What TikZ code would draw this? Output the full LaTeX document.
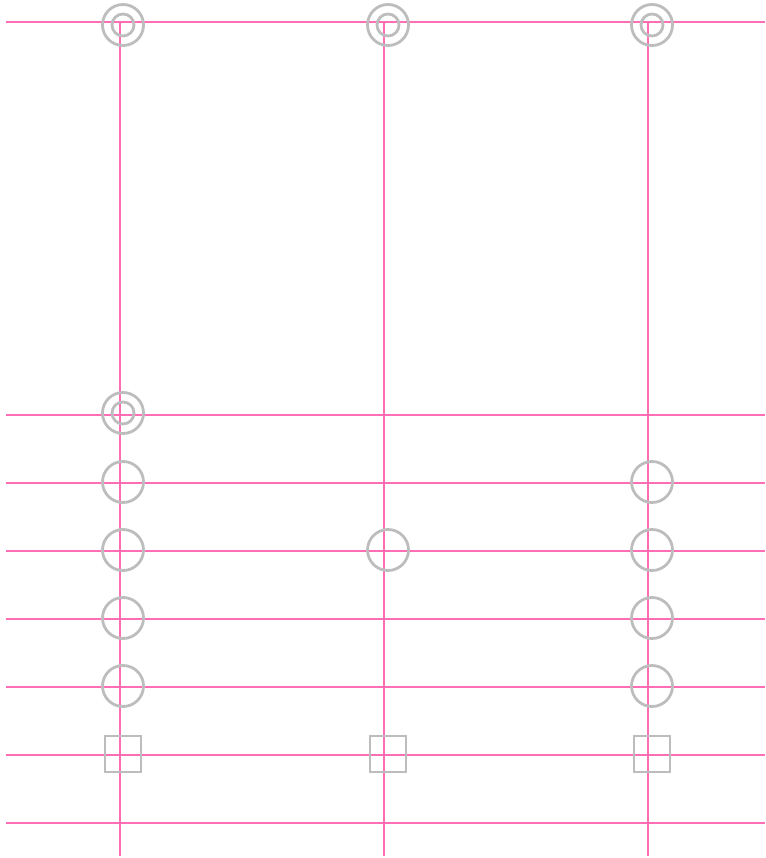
\documentclass[tikz,border=0pt]{standalone}
\definecolor{pinkline}{HTML}{FF6EB4}
\definecolor{grayring}{HTML}{BDBDBD}
\begin{document}
\begin{tikzpicture}[x=1pt,y=-1pt,
  wire/.style={draw=pinkline,line width=2.2pt},
  ring/.style={circle,draw=grayring,line width=2.8pt,minimum size=41pt,inner sep=0pt},
  innerring/.style={circle,draw=grayring,line width=2.8pt,minimum size=22pt,inner sep=0pt},
  sq/.style={rectangle,draw=grayring,line width=2.8pt,minimum size=36pt,inner sep=0pt}]
\useasboundingbox (0,0) rectangle (765,858);
% horizontal lines
\foreach \i/\y in {1/22,2/415,3/483,4/551,5/619,6/687,7/755,8/823}{
  \coordinate (hl\i) at (6,\y);
  \coordinate (hr\i) at (765,\y);
  \draw[wire] (hl\i) -- (hr\i);
}
% vertical lines
\foreach \i/\x in {1/120,2/384,3/648}{
  \coordinate (vt\i) at (\x,21);
  \coordinate (vb\i) at (\x,856);
  \draw[wire] (vt\i) -- (vb\i);
}
% top double circles
\foreach \i/\x in {1/123,2/388,3/652}{
  \node[ring] (top\i) at (\x,25) {};
  \node[innerring] (topin\i) at (\x,25) {};
}
\node[ring] (mid1) at (123,413) {};
\node[innerring] (midin1) at (123,413) {};
% single circles
\node[ring] (a1) at (123,482) {};
\node[ring] (a3) at (652,482) {};
\node[ring] (b1) at (123,550) {};
\node[ring] (b2) at (388,550) {};
\node[ring] (b3) at (652,550) {};
\node[ring] (c1) at (123,618) {};
\node[ring] (c3) at (652,618) {};
\node[ring] (d1) at (123,686) {};
\node[ring] (d3) at (652,686) {};
% squares
\node[sq] (s1) at (123,754) {};
\node[sq] (s2) at (388,754) {};
\node[sq] (s3) at (652,754) {};
\end{tikzpicture}
\end{document}
